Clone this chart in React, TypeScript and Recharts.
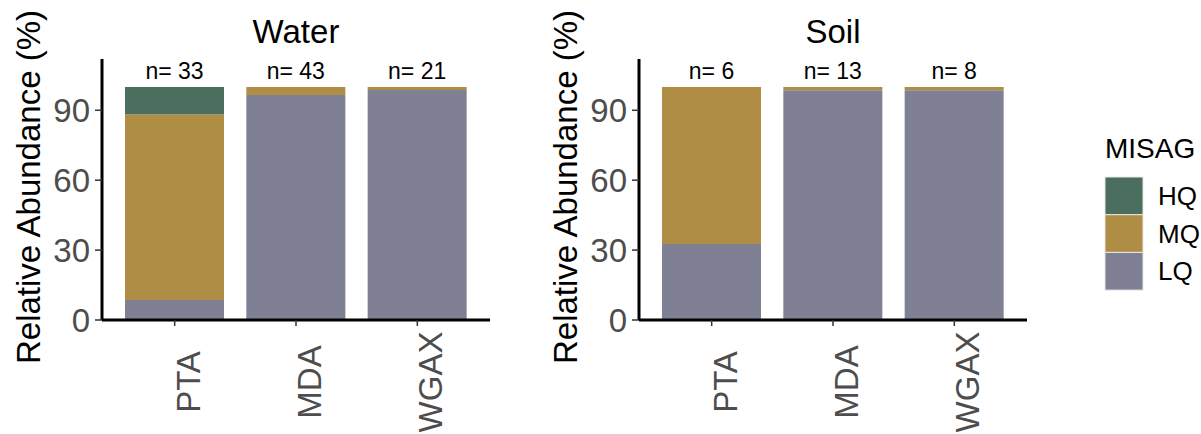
import { Bar, BarChart, LabelList, XAxis, YAxis } from "recharts";

// MISAG quality share per pipeline
const categories = ["PTA", "MDA", "WGAX"];
const waterLQ = [8.6, 96.6, 98.7];
const waterMQ = [79.7, 3.4, 1.3];
const waterHQ = [11.7, 0, 0];
const waterN = [33, 43, 21];
const soilLQ = [32.6, 98.6, 98.6];
const soilMQ = [67.4, 1.4, 1.4];
const soilHQ = [0, 0, 0];
const soilN = [6, 13, 8];
const yTicks = [0, 30, 60, 90];
const qualities = ["HQ", "MQ", "LQ"] as const;

const COLORS: Record<string, string> = { HQ: "#4a6f5f", MQ: "#b08d45", LQ: "#7f8093" };
const FONT = '"Liberation Sans", Arial, Helvetica, sans-serif';

const XTick = (props: any) => {
  const { x, y, payload } = props;
  return (
    <text
      transform={`translate(${x + 25},${y + 54}) rotate(-90)`}
      textAnchor="middle"
      fill="#4d4d4d"
      fontSize={33}
      fontFamily={FONT}
    >
      {payload.value}
    </text>
  );
};

interface PanelProps {
  title: string;
  lq: number[];
  mq: number[];
  hq: number[];
  n: number[];
  left: number;
}

function Panel({ title, lq, mq, hq, n, left }: PanelProps) {
  const data = categories.map((name, i) => ({ name, LQ: lq[i], MQ: mq[i], HQ: hq[i], n: n[i] }));
  const axisLine = { stroke: "#000", strokeWidth: 3 };
  const tickLine = { stroke: "#333", strokeWidth: 1.5 };

  // n= label sits above the full stack; the LQ rect gives us the scale
  const nLabel = (p: any) => {
    const i = p.index;
    const x = Number(p.x);
    const y = Number(p.y);
    const w = Number(p.width);
    const h = Number(p.height);
    const total = lq[i] + mq[i] + hq[i];
    const top = y + h - (h / lq[i]) * total;
    return (
      <text key={`n-${i}`} x={x + w / 2} y={top - 8} textAnchor="middle" fill="#000" fontSize={23} fontFamily={FONT}>
        {`n= ${n[i]}`}
      </text>
    );
  };

  return (
    <div style={{ position: "absolute", left, top: 0, width: 500, height: 434 }}>
      <BarChart width={500} height={434} data={data} margin={{ top: 59, right: 10, bottom: 0, left: 0 }}>
        <XAxis
          dataKey="name"
          height={114}
          padding={{ left: 12, right: 12 }}
          interval={0}
          axisLine={axisLine}
          tickLine={tickLine}
          tickSize={6}
          tick={<XTick />}
        />
        <YAxis
          type="number"
          domain={[0, 112]}
          ticks={yTicks}
          width={102}
          interval={0}
          axisLine={axisLine}
          tickLine={tickLine}
          tickSize={7}
          tickMargin={5}
          tick={{ fill: "#4d4d4d", fontSize: 33, fontFamily: FONT }}
        />
        <Bar dataKey="LQ" stackId="a" fill={COLORS.LQ} barSize={99} isAnimationActive={false}>
          <LabelList dataKey="n" content={nLabel} />
        </Bar>
        <Bar dataKey="MQ" stackId="a" fill={COLORS.MQ} barSize={99} isAnimationActive={false} />
        <Bar dataKey="HQ" stackId="a" fill={COLORS.HQ} barSize={99} isAnimationActive={false} />
      </BarChart>
      <svg width={500} height={434} style={{ position: "absolute", left: 0, top: 0, pointerEvents: "none" }}>
        <text x={296} y={43} textAnchor="middle" fontSize={33} fontFamily={FONT} fill="#000">
          {title}
        </text>
        <text transform="translate(40,187) rotate(-90)" textAnchor="middle" fontSize={33} fontFamily={FONT} fill="#000">
          Relative Abundance (%)
        </text>
      </svg>
    </div>
  );
}

function Legend() {
  return (
    <svg width={140} height={200} style={{ position: "absolute", left: 1080, top: 120 }}>
      <text x={25} y={38} fontSize={28} fontFamily={FONT} fill="#000">
        MISAG
      </text>
      {qualities.map((q, i) => (
        <g key={q}>
          <rect x={25} y={57 + i * 37.7} width={38} height={37.7} fill={COLORS[q]} stroke="#e8e8e8" strokeWidth={1} />
          <text x={78} y={57 + i * 37.7 + 28} fontSize={26} fontFamily={FONT} fill="#000">
            {q}
          </text>
        </g>
      ))}
    </svg>
  );
}

export default function App() {
  return (
    <div style={{ position: "absolute", left: 0, top: 0, width: 1201, height: 434, background: "#fff", overflow: "hidden" }}>
      <Panel title="Water" lq={waterLQ} mq={waterMQ} hq={waterHQ} n={waterN} left={0} />
      <Panel title="Soil" lq={soilLQ} mq={soilMQ} hq={soilHQ} n={soilN} left={537} />
      <Legend />
    </div>
  );
}
